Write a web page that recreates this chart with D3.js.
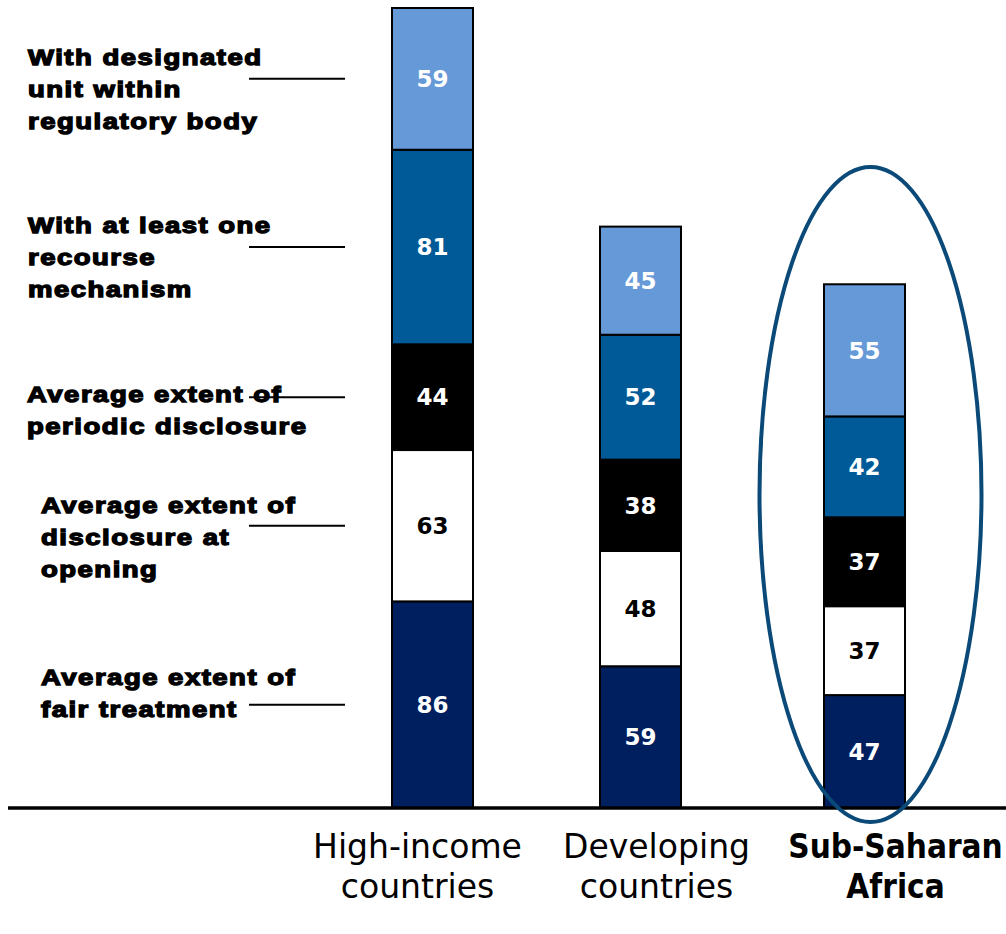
<!DOCTYPE html>
<html><head><meta charset="utf-8">
<script src="https://cdn.jsdelivr.net/npm/d3@7"></script>
<style>html,body{margin:0;padding:0;background:#fff;}svg{display:block;}</style>
</head><body>
<svg id="chart" width="1006" height="934"></svg>
<script>
const categories = ["High-income countries", "Developing countries", "Sub-Saharan Africa"];
const categoryLines = [["High-income", "countries"], ["Developing", "countries"], ["Sub-Saharan", "Africa"]];
const seriesNames = [
  "Average extent of fair treatment",
  "Average extent of disclosure at opening",
  "Average extent of periodic disclosure",
  "With at least one recourse mechanism",
  "With designated unit within regulatory body"
];
const seriesLabelLines = [
  ["Average extent of", "fair treatment"],
  ["Average extent of", "disclosure at", "opening"],
  ["Average extent of", "periodic disclosure"],
  ["With at least one", "recourse", "mechanism"],
  ["With designated", "unit within", "regulatory body"]
];
const fairTreatment = [86, 59, 47];
const disclosureOpening = [63, 48, 37];
const periodicDisclosure = [44, 38, 37];
const recourseMechanism = [81, 52, 42];
const designatedUnit = [59, 45, 55];

const colors = ["#001f5e", "#ffffff", "#000000", "#005a98", "#6699d8"];
const textColors = ["#ffffff", "#000000", "#ffffff", "#ffffff", "#ffffff"];
// layout: left label x and first-baseline offset from leader line
const labelLayout = [
  {x: 41, dy: -20}, {x: 41, dy: -13}, {x: 27, dy: 5}, {x: 28, dy: -14}, {x: 28, dy: -14}
];
const barShift = [0, -8, 0];
const catLabelShift = [-15, 16, 31];

const seriesValues = [fairTreatment, disclosureOpening, periodicDisclosure, recourseMechanism, designatedUnit];
const rows = categories.map((c, i) => {
  const r = {category: c};
  seriesNames.forEach((s, j) => r[s] = seriesValues[j][i]);
  return r;
});
const stack = d3.stack().keys(seriesNames)(rows);

const svg = d3.select("#chart");
const baseY = 808;
const x = d3.scaleBand().domain(categories).range([327.2, 969.8]).paddingInner(0.625).paddingOuter(0.3);
const bx = c => x(c) + barShift[categories.indexOf(c)];
const y = d3.scaleLinear().domain([0, 333]).range([baseY, 8]);

const g = svg.append("g");
stack.forEach((layer, j) => {
  g.selectAll(null).data(layer).enter().append("rect")
    .attr("x", d => bx(d.data.category))
    .attr("y", d => y(d[1]))
    .attr("width", x.bandwidth())
    .attr("height", d => y(d[0]) - y(d[1]))
    .attr("fill", colors[j])
    .attr("stroke", "#000").attr("stroke-width", 2);
  g.selectAll(null).data(layer).enter().append("text")
    .attr("x", d => bx(d.data.category) + x.bandwidth() / 2)
    .attr("y", d => (y(d[0]) + y(d[1])) / 2)
    .attr("dy", "0.36em")
    .attr("text-anchor", "middle")
    .attr("font-family", "'DejaVu Sans', sans-serif")
    .attr("font-weight", "bold")
    .attr("font-size", 23)
    .attr("fill", textColors[j])
    .text(d => d[1] - d[0]);
});

// baseline axis
const axis = d3.axisBottom(x).tickSize(0).tickFormat("");
const axG = svg.append("g").attr("transform", `translate(0,${baseY})`).call(axis);
axG.select(".domain").remove();
svg.append("line").attr("x1", 8).attr("x2", 1006).attr("y1", baseY).attr("y2", baseY)
  .attr("stroke", "#000").attr("stroke-width", 3.5);

// category labels
categories.forEach((c, i) => {
  const cx = bx(c) + x.bandwidth() / 2 + catLabelShift[i];
  const sx = i === 2 ? 1.0 : 1.08;
  const t = svg.append("text")
    .attr("transform", `translate(${cx},858) scale(${sx},1)`)
    .attr("text-anchor", "middle")
    .attr("font-family", "'DejaVu Sans Condensed', 'DejaVu Sans', sans-serif")
    .attr("font-stretch", "condensed")
    .attr("font-weight", i === 2 ? "bold" : "normal")
    .attr("font-size", i === 2 ? 33 : 34)
    .attr("fill", "#000");
  categoryLines[i].forEach((l, k) => t.append("tspan").attr("x", 0).attr("dy", k === 0 ? 0 : 40).text(l));
});

// left series labels with leader lines
stack.forEach((layer, j) => {
  const d = layer[0];
  const ly = (y(d[0]) + y(d[1])) / 2;
  const t = svg.append("text")
    .attr("transform", `translate(${labelLayout[j].x},${ly + labelLayout[j].dy}) scale(1.25,1)`)
    .attr("font-family", "'Liberation Sans', Arial, sans-serif")
    .attr("font-weight", "900")
    .attr("font-size", 22)
    .attr("stroke", "#000").attr("stroke-width", 1.3)
    .attr("letter-spacing", 1.2)
    .attr("fill", "#000");
  seriesLabelLines[j].forEach((l, k) => t.append("tspan").attr("x", 0).attr("dy", k === 0 ? 0 : 32).text(l));
  svg.append("line").attr("x1", 249).attr("x2", 345).attr("y1", ly).attr("y2", ly)
    .attr("stroke", "#000").attr("stroke-width", 2);
});

// highlight ellipse around Sub-Saharan Africa
const ssa = categories[2];
svg.append("ellipse")
  .attr("cx", bx(ssa) + x.bandwidth() / 2 + 6)
  .attr("cy", 494.5)
  .attr("rx", 111)
  .attr("ry", 327.5)
  .attr("fill", "none")
  .attr("stroke", "#0b4a78")
  .attr("stroke-width", 4);
</script>
</body></html>
